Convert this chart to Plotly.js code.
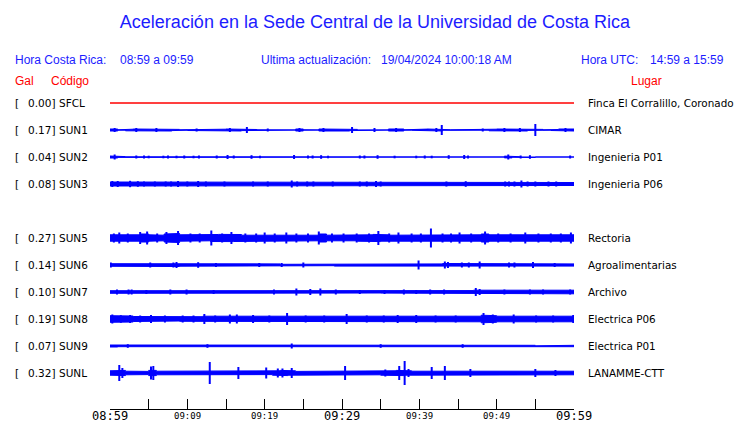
<!DOCTYPE html>
<html><head><meta charset="utf-8">
<script src="https://cdn.plot.ly/plotly-3.0.1.min.js"></script>
<style>html,body{margin:0;padding:0;background:#fff}#chart{width:740px;height:423px}</style>
</head><body><div id="chart"></div>
<script>
// ---------------- data ----------------
const codes  = ['SFCL','SUN1','SUN2','SUN3','SUN5','SUN6','SUN7','SUN8','SUN9','SUNL'];
const galPeak = ['0.00','0.17','0.04','0.08','0.27','0.14','0.10','0.19','0.07','0.32'];
const places = ['Finca El Corralillo, Coronado','CIMAR','Ingenieria P01','Ingenieria P06','Rectoria',
                'Agroalimentarias','Archivo','Electrica P06','Electrica P01','LANAMME-CTT'];
const rowSlot = [0,1,2,3,5,6,7,8,9,10];
const tickMinutes = [0,5,10,15,20,25,30,35,40,45,50,55,60];
const tickLabels  = ['08:59','','09:09','','09:19','','09:29','','09:39','','09:49','','09:59'];
const bigTicks    = ['08:59','09:29','09:59'];

// per-minute envelope (half amplitude, relative units)
const envSFCL = [0,0,0,0,0,0,0,0,0,0,0,0,0,0,0,0,0,0,0,0,0,0,0,0,0,0,0,0,0,0,0,0,0,0,0,0,0,0,0,0,0,0,0,0,0,0,0,0,0,0,0,0,0,0,0,0,0,0,0,0];
const envSUN1 = [1,0.2,0.8,1,0.5,0.9,0.4,1,0.6,0.2,0.5,0.6,0.3,0.5,0.8,1,1,0.6,0.5,0.2,0.3,0.2,0.1,0.1,1,0.2,0.1,1,0.5,0.9,1,0.6,0.1,0.3,0.8,0.1,1,1,0.2,0.3,0.9,1,1,0.3,0.2,0.3,0.1,0.3,0.2,0.8,1,1,1,1,0.4,0.6,0.2,0.5,1,1];
const envSUN2 = [1,0.4,0.2,0.1,0.1,0,0,0,0,0,0,0,0,0,0,0.5,0,0,0.2,0,0,0,0,0.6,0.6,0,0,0.5,0,0,0,0,0.1,0,0.6,0,0,0,0,0,0,0,0,0,0,0.6,0.3,0,0,0,0,0.9,0.3,0,0.5,0,0,0,0,0];
const envSUN3 = [2,1.8,1.5,1.6,1.5,1.4,1.4,1.6,1.5,1.4,1.4,1.5,1.4,1.4,1.4,1.4,1.4,1.4,1.4,1.4,1.4,1.4,1.4,1.8,1.5,1.5,1.5,1.4,1.4,1.4,1.4,1.4,1.5,1.5,1.8,1.4,1.4,1.4,1.4,1.4,1.4,1.4,1.4,1.5,1.4,1.4,1.6,1.4,1.4,1.4,1.4,1.5,1.5,1.6,1.5,1.5,1.4,1.4,1.5,1.5];
const envSUN5 = [3.2,2.8,2.8,3.2,4,3.2,2.8,4,4.5,3.2,2.8,3.2,2.8,3.5,3.6,3.6,3.5,2.8,2.8,2.8,2.8,2.8,3.2,3.5,3.5,3.2,2.8,4,2.8,2.8,2.8,2.8,3.2,3.2,3.6,3.2,2.8,2.8,2.8,2.8,2.8,3.5,3.2,2.8,2.8,3.2,3.2,3.2,4,3.2,2.8,3.2,3.2,3.2,3.2,3.2,2.8,2.8,2.8,3.2];
const envSUN6 = [1.3,1.1,1.1,1.1,1.1,1.3,1.1,1.1,1.5,1.2,1.1,1.3,1.1,1.1,1.1,1.1,1.1,1.1,1.1,1.1,1.1,1.1,0.7,1.1,1.1,1.3,0.7,1.1,0.7,1.1,1.1,1.1,1.1,1.1,1.1,1.1,1.1,1.1,1.1,1.3,1.1,1.1,1.1,1.5,1.3,1.3,1.3,1.3,1.5,1.1,1.1,1.3,1.3,1.1,1.3,1.3,1.1,1.1,1.3,1.1];
const envSUN7 = [1.3,1.5,1.4,1.2,1,1,1.2,1,1.3,1,1.4,1,1,1,1,1,1,1,0.8,1,1,1.4,1.1,1,1.4,1.1,1.4,1.5,1.1,1.1,1,1.3,1,1,1,1.1,1.1,1.4,1.5,1.1,1.1,1.1,1.2,1.1,1.1,1.4,1.4,1.8,1.5,1.1,1.1,1.1,1.3,1.5,1.1,1.1,1.5,1.1,1.4,1.8];
const envSUN8 = [3.3,2.8,3,2.5,2.3,2.3,2.3,2.1,2,2.3,2.5,2.3,2.8,2.3,2.3,3,3,2.5,3,2.3,2.3,2.3,2.5,2.8,2.3,2.3,2.3,2.3,2.3,2.3,2.8,2.3,2.3,2.3,2.3,2.3,2.3,2.3,2.3,2.8,2.8,2.3,2.3,2.3,2.5,2.3,2.3,2.8,3.8,3.3,2.8,2.8,2.3,2.5,2.3,2.5,2.3,2.3,2.8,2.8];
const envSUN9 = [1,0.7,0.9,0.6,0.7,0.6,0.8,0.6,0.7,0.6,0.7,0.7,0.6,0.8,0.6,0.7,0.6,0.7,0.6,0.7,0.6,0.7,0.6,0.8,0.6,0.7,0.7,0.6,0.7,0.6,0.7,0.6,0.7,0.6,0.7,0.7,0.6,0.7,0.6,0.7,0.6,0.7,0.7,0.6,0.7,0.6,0.7,0.6,0.7,0.6,0.7,0.7,0.6,0.6,0.7,0.2,0.2,0.7,0.6,0.7];
const envSUNL = [2.2,2.6,1.8,1.8,1.6,2.6,1.8,1.8,1.6,1.8,1.6,1.6,1.6,2.2,1.6,1.6,1.6,1.6,1.6,1.6,1.6,2.2,2.6,2.2,1.6,1.6,1.6,1.6,1.6,1.6,1.6,1.6,1.6,1.6,1.8,2.2,2.2,2.6,2.2,1.8,1.6,2.2,1.8,2.2,1.6,1.6,1.8,1.6,1.6,1.6,1.6,1.6,1.6,1.6,1.8,2.2,1.6,1.6,1.6,1.8];

// isolated bursts [minute, half amplitude]
const spkSFCL = [];
const spkSUN1 = [[0.6,2],[3.4,2],[6,2],[11.2,1.5],[15.5,2],[17.7,3],[20.4,1.5],[24.5,2],[27.6,2],[31.3,3],[34.2,2],[37,2],[42.2,2],[42.9,5],[48.2,1.5],[51,2],[53,2],[55,6],[58.9,2]];
const spkSUN2 = [[0.6,2.5],[3.4,1.5],[4.4,1.5],[5,1.3],[6.9,1.3],[7.5,1.5],[8.6,1.3],[9.6,1.5],[10.8,1.3],[11.5,1.5],[13.8,1.5],[15.2,2],[16,1.5],[18.3,1.8],[19.4,1.3],[23.8,2],[25.6,1.5],[26.2,1.5],[27.3,1.8],[28.2,1.3],[32.3,1.5],[32.9,1.5],[34.6,1.8],[36.8,1.3],[39.6,1.3],[40.7,1.5],[41.6,1.3],[43.8,1.8],[45.8,2],[46.3,1.5],[51.5,2.5],[53.1,1.5],[54.3,1.8],[59.5,1.5]];
const spkSUN3 = [[0.3,3],[1,3],[2.6,3.2],[3.6,2.8],[4.4,2.5],[5.8,2.5],[7.2,2.5],[7.9,2.5],[8.8,3],[10,2.5],[11.4,3],[12.4,2.5],[14.8,2.5],[18.5,2.5],[20.4,2.5],[23.5,3.5],[24.2,2.5],[25.5,2.5],[26.3,2.5],[28.8,2.5],[32.3,2.5],[33.2,2.5],[34.4,3],[35,2.5],[43.5,2.5],[46,2.8],[51.1,2.5],[51.6,2.5],[52.3,2.5],[53.2,3.5],[54,2.5],[55,2.5],[56.7,2.5],[57.7,2.5]];
const spkSUN5 = [[0.5,4.5],[1.2,5.5],[2.3,4.5],[3.9,6],[4.8,6.5],[6.1,4.5],[7.3,6],[8.8,7],[10.4,4.5],[11.6,4.5],[13.1,7.5],[14.5,4.5],[15.7,6],[17.5,4.5],[18.9,4.5],[20,5.5],[21.3,4.5],[22.8,5.5],[24.1,4.5],[25.6,4.5],[27,6.5],[28.7,4.5],[30.2,4.5],[31.9,4.5],[33.5,4.5],[34.7,7],[36.1,4.5],[37.3,5.5],[39,4.5],[40.2,4.5],[41.5,9.5],[43,4.5],[44.1,4.5],[45.2,5.5],[46.7,4.5],[48.5,6.5],[50.2,4.5],[51.8,4.5],[53.7,5.5],[55.4,4.5],[57,4.5],[58.3,4.5],[59.6,5.5]];
const spkSUN6 = [[0.1,2.5],[5.2,2.5],[8.2,2.5],[8.6,3],[11.4,2.8],[13.7,2],[19.3,2],[22.2,2],[25,2.5],[39.9,4.5],[43.3,3.5],[43.7,3],[45.5,2.5],[46.4,2.5],[47.8,3.5],[51.6,2.5],[52.3,2.5],[54.7,3],[57.5,2]];
const spkSUN7 = [[0.9,2.5],[2.4,2.5],[2.8,2.5],[4.7,2],[7.8,2.5],[9.9,2.5],[13.4,2],[21.2,2.5],[24.1,3.5],[25.9,3],[27.2,3.5],[29.2,2.5],[32.3,2],[35.5,2],[38,2.5],[39.6,2],[41.4,2.5],[43.2,2.5],[47.3,4],[47.8,3],[51,2.5],[54.3,2.5],[56,2.5],[59.5,2.5]];
const spkSUN8 = [[0.3,4.5],[1.4,3.8],[2.6,4],[3.9,3.5],[5.3,4],[7.1,3.5],[9.4,3.5],[10.8,3.5],[12.2,5],[13.6,3.5],[15.5,4.5],[16.4,4.5],[18.5,4],[20.6,3.5],[22.9,6],[25.3,3.5],[27.7,3.5],[30.6,5],[33.2,3.5],[35.4,3.5],[37.2,4],[39.6,4],[42.1,3.5],[44.7,3.5],[48.3,6],[49.5,4.5],[52.2,4.5],[55.1,3.5],[57.3,3.5],[59.9,4]];
const spkSUN9 = [[2.3,1.8],[12.6,1.8],[23.5,2.5],[35,1.8],[45.6,1.8]];
const spkSUNL = [[1.2,8],[1.6,5],[5.3,6.5],[5.6,7],[12.9,11],[16.6,6],[20.2,5.5],[21.7,4.5],[22.3,4.5],[23.5,5],[30.4,7],[35.6,3.5],[37.4,7],[38.1,12],[38.6,4],[41.6,6],[43.3,7],[46.6,4],[55,4],[57.6,3]];

const envs = [envSFCL,envSUN1,envSUN2,envSUN3,envSUN5,envSUN6,envSUN7,envSUN8,envSUN9,envSUNL];
const spks = [spkSFCL,spkSUN1,spkSUN2,spkSUN3,spkSUN5,spkSUN6,spkSUN7,spkSUN8,spkSUN9,spkSUNL];

// ---------------- layout geometry ----------------
const W = 740, H = 423, L = 110, R = 166, T = 90, B = 14;
const PW = W - L - R, PH = H - T - B;
const rowPx = 27, firstRowPx = 103;
const yTop = (T - firstRowPx) / rowPx, yBot = (H - B - firstRowPx) / rowPx;
const amp = 1 / rowPx;
const px2x = px => (px - L) / PW;
const px2y = py => (H - B - py) / PH;
const BLUE = '#0000ff', TBLUE = '#1c1cff', RED = '#ff0000';

const traces = [];
codes.forEach((c, i) => {
  const yc = rowSlot[i], e = envs[i], col = (c === 'SFCL') ? RED : BLUE;
  const xs = [], ys = [];
  for (let m = 0; m < e.length; m++) { xs.push(m, m + 1); ys.push(yc - e[m]*amp, yc - e[m]*amp); }
  for (let m = e.length - 1; m >= 0; m--) { xs.push(m + 1, m); ys.push(yc + e[m]*amp, yc + e[m]*amp); }
  traces.push({x: xs, y: ys, mode: 'lines', fill: c === 'SFCL' ? 'none' : 'toself', fillcolor: col,
               line: {color: col, width: 1}, hoverinfo: 'skip', showlegend: false});
  if (spks[i].length) {
    const sx = [], sy = [];
    spks[i].forEach(([m, a]) => { sx.push(m, m, null); sy.push(yc - a*amp, yc + a*amp, null); });
    traces.push({x: sx, y: sy, mode: 'lines', line: {color: col, width: 2}, hoverinfo: 'skip', showlegend: false});
  }
});

const ann = [];
const fTxt = (size, color, fam) => ({family: fam || 'DejaVu Sans, sans-serif', size: size, color: color});
const add = (text, px, py, xanchor, font) => ann.push({text: text, xref: 'paper', x: px2x(px), yref: 'paper', y: px2y(py),
  xanchor: xanchor, yanchor: 'middle', showarrow: false, font: font, borderpad: 0});
const HF = 'Liberation Sans, Arial, sans-serif';
add('Hora Costa Rica:', 14, 60.5, 'left', fTxt(12, TBLUE, HF));
add('08:59 a 09:59', 119, 60.5, 'left', fTxt(12, TBLUE, HF));
add('Ultima actualización:', 259.5, 60.5, 'left', fTxt(12, TBLUE, HF));
add('19/04/2024 10:00:18 AM', 380, 60.5, 'left', fTxt(12, TBLUE, HF));
add('Hora UTC:', 579.5, 60.5, 'left', fTxt(12, TBLUE, HF));
add('14:59 a 15:59', 649, 60.5, 'left', fTxt(12, TBLUE, HF));
add('Gal', 14, 80.5, 'left', fTxt(12, RED, HF));
add('Código', 49.5, 80.5, 'left', fTxt(12, RED, HF));
add('Lugar', 629.5, 80.5, 'left', fTxt(12, RED, HF));
codes.forEach((c, i) => {
  const py = firstRowPx + rowSlot[i] * rowPx;
  add('[', 14, py, 'left', fTxt(10.5, '#000'));
  add(galPeak[i] + ']', 55.5, py, 'right', fTxt(10.5, '#000'));
  add(c, 58, py, 'left', fTxt(10.5, '#000'));
  add(places[i], 587, py, 'left', fTxt(10.4, '#000'));
});
tickMinutes.forEach((m, k) => {
  const t = tickLabels[k]; if (!t) return;
  const big = bigTicks.includes(t);
  ann.push({text: t, xref: 'x', x: m, yref: 'paper', y: px2y(416), xanchor: 'center', yanchor: 'middle',
            showarrow: false, borderpad: 0, font: {family: 'DejaVu Sans Mono, monospace', size: big ? 12 : 9, color: '#000'}});
});

const layout = {
  width: W, height: H, paper_bgcolor: '#fff', plot_bgcolor: '#fff',
  margin: {l: L, r: R, t: T, b: B, pad: 0}, showlegend: false,
  title: {text: 'Aceleración en la Sede Central de la Universidad de Costa Rica', xref: 'container', x: 375/W,
          xanchor: 'center', yref: 'container', y: 1 - 22/H, yanchor: 'middle', font: {family: HF, size: 18, color: TBLUE}},
  xaxis: {range: [0, 60], tickvals: tickMinutes, ticktext: tickLabels, showticklabels: false, ticks: 'inside', ticklen: 10,
          tickcolor: '#000', tickwidth: 1, showline: false, showgrid: false, zeroline: false, fixedrange: true},
  yaxis: {range: [yBot, yTop], visible: false, showgrid: false, zeroline: false, fixedrange: true},
  shapes: [{type: 'line', xref: 'paper', yref: 'paper', x0: 0, x1: 1, y0: px2y(409.5), y1: px2y(409.5),
            line: {color: '#000', width: 1}, layer: 'above'}],
  annotations: ann
};
Plotly.newPlot('chart', traces, layout, {staticPlot: true, displayModeBar: false});
</script></body></html>
